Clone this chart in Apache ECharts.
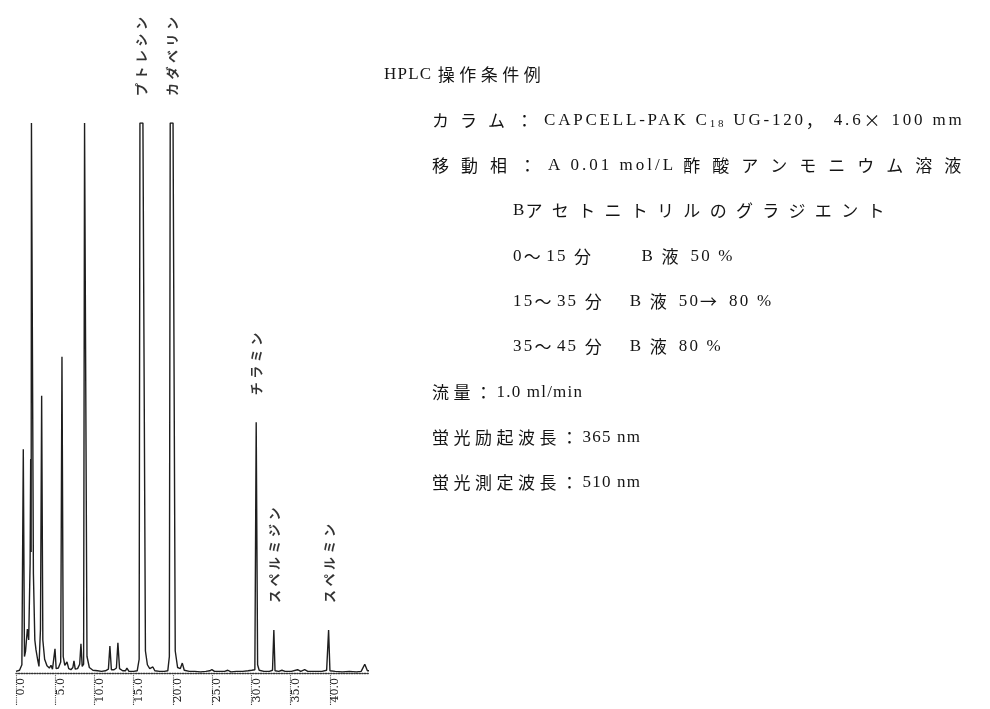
<!DOCTYPE html>
<html><head><meta charset="utf-8">
<script src="https://cdn.jsdelivr.net/npm/echarts@6/dist/echarts.min.js"></script>
<style>html,body{margin:0;padding:0;background:#fff}#c{width:990px;height:709px}</style>
</head><body><div id="c"></div>
<script>
// ---------------- data ----------------
const retentionTime = [
  0.00,0.45,0.75,0.93,1.08,1.22,1.45,1.62,1.80,1.87,1.93,1.97,2.12,2.22,2.40,2.55,2.75,2.93,3.12,3.27,
  3.42,3.65,3.95,4.25,4.46,4.65,4.85,4.97,5.12,5.40,5.70,5.86,6.02,6.22,6.50,6.72,7.00,7.25,7.39,7.55,
  7.85,8.12,8.28,8.44,8.62,8.74,8.86,9.05,9.35,9.80,10.40,10.90,11.40,11.78,11.97,12.16,12.50,12.80,12.99,13.20,
  13.60,13.95,14.14,14.40,15.00,15.45,15.70,15.80,16.18,16.50,16.75,17.05,17.30,17.45,17.70,18.30,18.90,19.35,19.55,19.66,
  20.02,20.30,20.60,20.95,21.20,21.45,22.10,22.80,23.50,24.20,24.70,24.97,25.30,26.00,26.60,27.00,27.40,28.10,28.90,29.60,
  30.06,30.45,30.62,30.80,31.00,31.60,32.30,32.70,32.87,33.02,33.50,33.90,34.30,35.10,35.90,36.30,36.80,37.20,38.10,39.00,
  39.60,39.85,40.02,40.70,41.60,42.50,43.40,44.00,44.46,44.80,45.00
];
const detectorSignal = [
  0.3,0.5,1.5,40.7,3.0,4.0,8.0,6.0,20.0,38.9,22.0,100,100,18.0,6.0,4.2,2.5,1.2,8.0,50.4,
  6.0,2.5,1.3,0.9,1.4,0.7,1.0,4.4,0.8,0.9,2.0,57.5,3.0,1.4,2.0,0.8,0.6,1.0,2.2,0.7,
  0.8,1.6,5.3,1.2,1.6,100,100,3.0,1.0,0.5,0.4,0.3,0.4,0.7,4.9,0.6,0.6,0.9,5.5,0.8,
  0.4,0.4,0.9,0.3,0.3,0.4,2.5,100,100,4.0,1.5,0.8,0.7,1.1,0.4,0.3,0.3,0.4,3.0,100,
  100,4.0,1.0,0.8,1.8,0.5,0.3,0.3,0.2,0.3,0.4,0.6,0.3,0.3,0.3,0.5,0.2,0.3,0.3,0.4,
  0.5,0.6,45.6,1.5,0.5,0.3,0.3,0.5,7.8,0.4,0.3,0.5,0.3,0.3,0.6,0.3,0.6,0.3,0.3,0.3,
  0.5,7.8,0.4,0.3,0.2,0.3,0.2,0.3,1.6,0.4,0.4
];
const tickValues = [0, 5, 10, 15, 20, 25, 30, 35, 40];
const peakNames   = ['プトレシン', 'カダベリン', 'チラミン', 'スペルミジン', 'スペルミン'];
const peakTimes   = [15.99, 19.84, 30.62, 32.87, 39.85];
const peakHeights = [100, 100, 45.6, 7.8, 7.8];
const conditionLines = [
  'HPLC 操作条件例',
  'カラム：CAPCELL-PAK C₁₈ UG-120，4.6×100 mm',
  '移動相：A 0.01 mol/L 酢酸アンモニウム溶液',
  'Bアセトニトリルのグラジエント',
  '0～15 分　　B 液 50 %',
  '15～35 分　B 液 50→ 80 %',
  '35～45 分　B 液 80 %',
  '流量：1.0 ml/min',
  '蛍光励起波長：365 nm',
  '蛍光測定波長：510 nm'
];

// ---------------- letter spacing (encoded as a dummy fallback family "lsN") ----------------
(function () {
  const P = CanvasRenderingContext2D.prototype;
  const fill = P.fillText, measure = P.measureText;
  function sp(font) { const m = /ls(\d+(?:\.\d+)?)/.exec(font); return m ? +m[1] : 0; }
  P.fillText = function (t, x, y, m) {
    if ('letterSpacing' in this) this.letterSpacing = sp(this.font) + 'px';
    return m === undefined ? fill.call(this, t, x, y) : fill.call(this, t, x, y, m);
  };
  P.measureText = function (t) {
    if ('letterSpacing' in this) this.letterSpacing = sp(this.font) + 'px';
    return measure.call(this, t);
  };
})();
const fam = (f, s) => '"' + f + '", "ls' + s + '"';

// ---------------- layout helpers ----------------
const SUB = '₀₁₂₃₄₅₆₇₈₉';
function richLine(line) {
  let out = '', cur = null, buf = '';
  const flush = () => { if (buf) out += '{' + cur + '|' + buf + '}'; buf = ''; };
  for (const ch of line) {
    let cls, c = ch;
    const si = SUB.indexOf(ch);
    if (si >= 0) { cls = 's'; c = String(si); }
    else if (ch.charCodeAt(0) >= 0x2000 || ch === '×') cls = 'j';
    else cls = 'l';
    if (cls !== cur) { flush(); cur = cls; }
    buf += c;
  }
  flush();
  return out;
}
const INK = '#141414';
function richStyles(cjkSp, latSp) {
  return {
    j: { fontFamily: fam('Noto Sans CJK JP', cjkSp), fontSize: 17, lineHeight: 22, fill: INK },
    l: { fontFamily: fam('Liberation Serif', latSp), fontSize: 17, lineHeight: 22, fill: INK },
    s: { fontFamily: fam('Liberation Serif', latSp), fontSize: 11, lineHeight: 11, verticalAlign: 'bottom', fill: INK }
  };
}
const lineCjkSp = [4.5, 11, 12, 9.3, 5.5, 5.5, 5.5, 4.5, 4.5, 4.5];
const lineLatSp = [1.2, 2.8, 3.0, 1.2, 2.2, 2.2, 2.2, 1.2, 1.2, 1.2];
const lineX = [384, 432, 432, 513, 513, 513, 513, 432, 432, 432];
const graphics = conditionLines.map((ln, i) => ({
  type: 'text', x: lineX[i], y: 75 + 45.3 * i, silent: true,
  style: { text: richLine(ln), rich: richStyles(lineCjkSp[i], lineLatSp[i]), align: 'left', verticalAlign: 'middle' }
}));

// ---------------- chart ----------------
const chart = echarts.init(document.getElementById('c'), null, { renderer: 'canvas' });
chart.setOption({
  animation: false,
  backgroundColor: '#ffffff',
  grid: { left: 16, right: 621, top: 123, bottom: 36 },
  xAxis: {
    type: 'value', min: 0, max: 45,
    axisLine: { show: true, onZero: false, lineStyle: { type: 'dotted', color: '#333', width: 1.3 } },
    axisTick: { show: true, customValues: tickValues, length: 32, lineStyle: { type: 'dotted', color: '#444', width: 1.1 } },
    axisLabel: {
      customValues: tickValues, rotate: 90, margin: 5, verticalAlign: 'top',
      formatter: v => v.toFixed(1), fontSize: 11, fontFamily: '"DejaVu Serif"', color: '#222'
    },
    splitLine: { show: false }
  },
  yAxis: { type: 'value', min: 0, max: 100, show: false },
  series: [
    {
      type: 'line', showSymbol: false, symbol: 'none', clip: true,
      lineStyle: { color: '#1e1e1e', width: 1.4 },
      data: retentionTime.map((t, i) => [t, detectorSignal[i]]),
      z: 3
    },
    {
      type: 'scatter', symbolSize: 0, clip: false, silent: true,
      data: peakNames.map((n, i) => ({ name: n, value: [peakTimes[i], peakHeights[i]] })),
      label: {
        show: true, position: 'top', distance: 27, rotate: 90, align: 'left', verticalAlign: 'middle',
        formatter: p => p.name, fontSize: 13, fontWeight: 'bold',
        fontFamily: fam('Noto Sans CJK JP', 3.5), color: '#000'
      },
      z: 4
    }
  ],
  graphic: graphics
});
</script>
</body></html>
